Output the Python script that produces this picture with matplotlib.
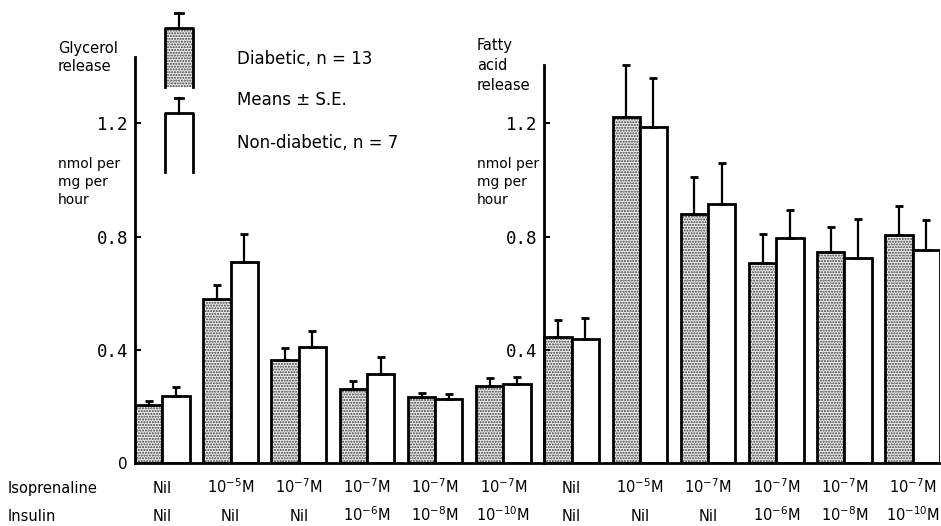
import numpy as np
import matplotlib
matplotlib.use("Agg")
import matplotlib.pyplot as plt
from matplotlib.lines import Line2D
from matplotlib.patches import Rectangle
from matplotlib.transforms import blended_transform_factory

# glycerol release (left panel) and fatty acid release (right panel), nmol/mg/h
glycerol_diab = [0.205, 0.58, 0.364, 0.26, 0.233, 0.272]
glycerol_diab_se = [0.015, 0.05, 0.042, 0.03, 0.014, 0.028]
glycerol_non = [0.237, 0.71, 0.41, 0.315, 0.226, 0.279]
glycerol_non_se = [0.033, 0.10, 0.056, 0.06, 0.018, 0.025]

fatty_diab = [0.445, 1.222, 0.88, 0.707, 0.746, 0.806]
fatty_diab_se = [0.06, 0.184, 0.13, 0.103, 0.088, 0.102]
fatty_non = [0.438, 1.187, 0.915, 0.795, 0.725, 0.753]
fatty_non_se = [0.074, 0.173, 0.145, 0.099, 0.137, 0.106]

isoprenaline = ["Nil", "10$^{-5}$M", "10$^{-7}$M", "10$^{-7}$M", "10$^{-7}$M", "10$^{-7}$M"]
insulin = ["Nil", "Nil", "Nil", "10$^{-6}$M", "10$^{-8}$M", "10$^{-10}$M"]

W, H = 941, 526
fig = plt.figure(figsize=(W / 100, H / 100), dpi=100)
plt.rcParams["hatch.linewidth"] = 1.0


def fx(x):
    return x / W


def fy(y):
    return 1 - y / H


ax_left, ax_right, base, top = 135, 940, 463, 57
ax = fig.add_axes([fx(ax_left), fy(base), (ax_right - ax_left) / W, (base - top) / H])
ymax = 1.435
ax.set_ylim(0, ymax)
ax.set_xlim(0, 11.8)

diab = np.array(glycerol_diab + fatty_diab)
diab_se = np.array(glycerol_diab_se + fatty_diab_se)
non = np.array(glycerol_non + fatty_non)
non_se = np.array(glycerol_non_se + fatty_non_se)
groups = np.arange(len(diab))
bw = 0.4
xd = groups + 0.2
xn = groups + 0.6

stipple = dict(facecolor="#eeeeee", hatch="......", edgecolor="#3a3a3a", linewidth=0)
ax.bar(xd, diab, bw, **stipple)
ax.bar(xd, diab, bw, fill=False, edgecolor="black", linewidth=2)
ax.bar(xn, non, bw, color="white", edgecolor="black", linewidth=2)

eb = dict(fmt="none", ecolor="black", elinewidth=1.6, capsize=3, capthick=2)
ax.errorbar(xd, diab, yerr=[np.zeros_like(diab_se), diab_se], **eb)
ax.errorbar(xn, non, yerr=[np.zeros_like(non_se), non_se], **eb)

for s in ["top", "right"]:
    ax.spines[s].set_visible(False)
ax.spines["left"].set_linewidth(2)
ax.spines["bottom"].set_linewidth(2)
ax.set_xticks([])
ax.set_yticks([0, 0.4, 0.8, 1.2])
ax.set_yticklabels(["0", "0.4", "0.8", "1.2"])
ax.tick_params(axis="y", direction="in", length=4, width=1.5, pad=5)
for i, lab in enumerate(ax.get_yticklabels()):
    if i == 0:
        lab.set_fontfamily("DejaVu Sans")
        lab.set_fontsize(11)
    else:
        lab.set_fontfamily("DejaVu Sans Mono")
        lab.set_fontsize(12.5)

# second (fatty acid) axis drawn at group 7
x_mid = ax_left + 6 * (ax_right - ax_left) / 11.8
ax2 = fig.add_axes([fx(x_mid), fy(base), 0.001, (base - top) / H])
ax2.patch.set_visible(False)
ax2.set_ylim(0, ymax)
for s in ["top", "right", "bottom"]:
    ax2.spines[s].set_visible(False)
ax2.spines["left"].set_linewidth(2)
ax2.spines["left"].set_bounds(0, 1.406)
ax2.set_xticks([])
ax2.set_yticks([0.4, 0.8, 1.2])
ax2.set_yticklabels(["0.4", "0.8", "1.2"], fontfamily="DejaVu Sans Mono", fontsize=12.5)
ax2.tick_params(axis="y", direction="in", length=4, width=1.5, pad=5)

# condition labels under the bars
tr = blended_transform_factory(ax.transData, fig.transFigure)
txt = dict(fontsize=10.5, ha="center", va="baseline", transform=tr)
for g in groups:
    ax.text(g + 0.4, fy(493), isoprenaline[g % 6], **txt)
    ax.text(g + 0.4, fy(521), insulin[g % 6], **txt)
fig.text(fx(8), fy(493), "Isoprenaline", fontsize=10.5, va="baseline")
fig.text(fx(8), fy(521), "Insulin", fontsize=10.5, va="baseline")

# axis titles
fig.text(fx(58), fy(41), "Glycerol\nrelease", fontsize=10.5, va="top", linespacing=1.25)
fig.text(fx(58), fy(157), "nmol per\nmg per\nhour", fontsize=10, va="top", linespacing=1.35)
fig.text(fx(477), fy(38), "Fatty\nacid\nrelease", fontsize=10.5, va="top", linespacing=1.4)
fig.text(fx(477), fy(157), "nmol per\nmg per\nhour", fontsize=10, va="top", linespacing=1.35)

# key
fig.add_artist(Rectangle((fx(165), fy(87)), fx(28), 59 / H, transform=fig.transFigure,
                         **stipple))
for y0, y1, ye in [(87, 28, 13), (172, 113, 98)]:
    fig.add_artist(Line2D([fx(165), fx(165), fx(193), fx(193)],
                          [fy(y0), fy(y1), fy(y1), fy(y0)], color="black", lw=2,
                          transform=fig.transFigure))
    fig.add_artist(Line2D([fx(179), fx(179)], [fy(y1), fy(ye)], color="black", lw=1.6,
                          transform=fig.transFigure))
    fig.add_artist(Line2D([fx(175), fx(183)], [fy(ye), fy(ye)], color="black", lw=2,
                          transform=fig.transFigure))
fig.text(fx(237), fy(59), "Diabetic, n = 13", fontsize=12, va="center")
fig.text(fx(237), fy(100), "Means \u00b1 S.E.", fontsize=12, va="center")
fig.text(fx(237), fy(143), "Non-diabetic, n = 7", fontsize=12, va="center")

fig.savefig("out.png", dpi=100)
